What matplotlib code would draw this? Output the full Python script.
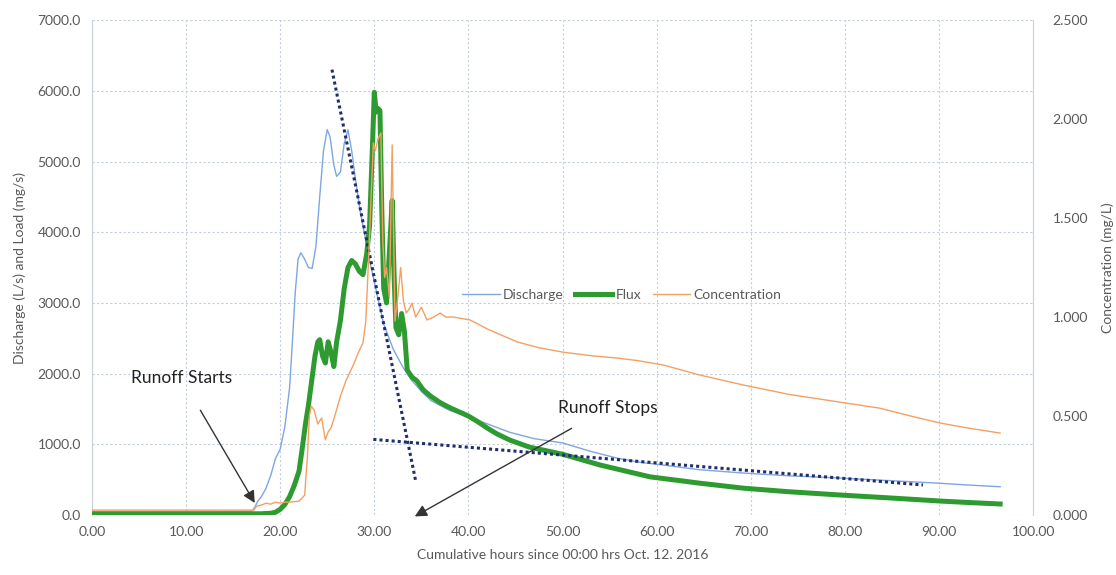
import matplotlib
matplotlib.use('Agg')
import matplotlib.pyplot as plt
from matplotlib.ticker import FormatStrFormatter

plt.rcParams['font.family'] = ['Lato', 'DejaVu Sans']

# discharge (L/s)
hours_q = [0, 5, 10, 15, 17.0, 17.3, 17.6, 18.0, 18.5, 19.0, 19.5, 20.0, 20.5, 21.0, 21.3, 21.6,
           21.9, 22.2, 22.6, 23.0, 23.4, 23.8, 24.2, 24.6, 25.0, 25.3, 25.7, 26.0, 26.4, 26.8,
           27.2, 27.6, 28.0, 28.5, 29.0, 29.5, 30.0, 30.5, 31.0, 32.0, 33.0, 34.0, 35.0, 36.0,
           38.0, 40.0, 41.6, 44.4, 47.0, 50.0, 53.0, 55.8, 58.0, 60.7, 64.6, 69.2, 74.0, 79.5,
           85.0, 90.0, 93.0, 96.5]
discharge = [50, 50, 52, 52, 55, 110, 190, 260, 380, 560, 800, 930, 1250, 1800, 2450, 3150,
             3620, 3710, 3620, 3500, 3490, 3800, 4500, 5150, 5450, 5350, 4950, 4790, 4850, 5250,
             5450, 5150, 4750, 4300, 3950, 3600, 3300, 3000, 2700, 2350, 2100, 1900, 1750, 1620,
             1480, 1390, 1310, 1170, 1080, 1020, 900, 805, 750, 707, 640, 594, 555, 523,
             485, 450, 425, 400]

# load / flux (mg/s)
hours_f = [0, 10, 18.0, 19.0, 19.5, 20.0, 20.5, 21.0, 21.5, 22.0, 22.3, 22.7, 23.0, 23.2, 23.4,
           23.7, 24.0, 24.2, 24.5, 24.8, 25.1, 25.4, 25.7, 26.0, 26.4, 26.8, 27.2, 27.6, 28.0,
           28.4, 28.8, 29.2, 29.5, 29.8, 30.0, 30.2, 30.4, 30.6, 30.8, 31.0, 31.3, 31.6, 31.9,
           32.1, 32.3, 32.6, 32.9, 33.2, 33.5, 34.0, 34.5, 35.2, 36.0, 37.0, 38.0, 39.0, 40.0,
           41.0, 42.0, 43.0, 44.4, 46.5, 50.0, 54.0, 59.3, 64.6, 69.2, 74.0, 79.5, 85.0, 90.1,
           93.0, 96.5]
flux = [15, 15, 18, 25, 40, 80, 150, 260, 420, 620, 900, 1300, 1550, 1750, 1950,
        2250, 2450, 2480, 2250, 2150, 2450, 2300, 2100, 2450, 2750, 3200, 3500, 3600, 3550,
        3450, 3400, 3700, 4100, 5200, 5980, 5700, 5750, 5720, 4300, 3200, 3000, 3700, 4450,
        3400, 2650, 2550, 2850, 2600, 2050, 1950, 1900, 1770, 1680, 1590, 1520, 1460, 1400,
        1320, 1230, 1150, 1060, 960, 860, 707, 540, 450, 380, 330, 283, 240, 198,
        178, 156]

# concentration (mg/L)
hours_c = [0, 10, 17.2, 17.5, 18.0, 18.5, 19.0, 19.5, 20.0, 20.5, 21.0, 22.0, 22.6, 22.9, 23.1,
           23.3, 23.6, 24.0, 24.4, 24.8, 25.1, 25.4, 25.8, 26.4, 27.0, 27.7, 28.3, 28.8, 29.1,
           29.4, 29.7, 29.9, 30.1, 30.4, 30.7, 30.9, 31.1, 31.3, 31.6, 31.9, 32.2, 32.5, 32.8,
           33.1, 33.4, 33.7, 34.0, 34.4, 35.0, 35.6, 36.3, 37.0, 37.6, 38.4, 40.2, 42.0, 45.2,
           47.5, 50.0, 53.0, 55.8, 58.0, 60.7, 64.6, 69.2, 74.0, 79.5, 83.7, 87.0, 90.1, 93.0, 96.5]
concentration = [0.025, 0.025, 0.025, 0.045, 0.05, 0.06, 0.055, 0.065, 0.06, 0.065, 0.065, 0.07, 0.1, 0.3, 0.5,
                 0.55, 0.53, 0.46, 0.49, 0.38, 0.42, 0.44, 0.5, 0.6, 0.68, 0.75, 0.82, 0.87, 0.98,
                 1.3, 1.65, 1.88, 1.84, 1.9, 1.93, 1.39, 1.2, 1.25, 1.1, 1.87, 0.98, 1.1, 1.25,
                 1.08, 1.02, 1.04, 1.07, 1.0, 1.05, 0.985, 1.0, 1.02, 1.0, 1.0, 0.985, 0.94, 0.874,
                 0.845, 0.823, 0.805, 0.793, 0.78, 0.758, 0.707, 0.657, 0.61, 0.57, 0.54, 0.5, 0.465, 0.44, 0.414]

# hand-drawn trend lines (hours, L/s)
rise_x = [25.5, 34.4]
rise_y = [6300, 480]
recess_x = [29.9, 88.3]
recess_y = [1070, 425]

grey = '#595959'
gridc = '#c5cedd'

fig = plt.figure(figsize=(11.16, 5.75), dpi=100)
ax = fig.add_axes([0.0824, 0.1043, 0.8433, 0.8607])
ax2 = ax.twinx()

l1, = ax.plot(hours_q, discharge, color='#7ea6e0', lw=1.0, label='Discharge', zorder=3)
l2, = ax.plot(hours_f, flux, color='#2e9b30', lw=3.6, label='Flux', zorder=4)
l3, = ax2.plot(hours_c, concentration, color='#f4a062', lw=1.0, label='Concentration', zorder=3)

ax2.plot(rise_x, rise_y, color='#1f2f6e', lw=2.2, ls=(0, (1, 1)), transform=ax.transData)
ax2.plot(recess_x, recess_y, color='#1f2f6e', lw=2.2, ls=(0, (1, 1)), transform=ax.transData)

ax.set_xlim(0, 100)
ax.set_ylim(0, 7000)
ax2.set_ylim(0, 2.5)
ax.set_xticks(range(0, 101, 10))
ax.set_yticks(range(0, 7001, 1000))
ax2.set_yticks([0, 0.5, 1.0, 1.5, 2.0, 2.5])
ax.xaxis.set_major_formatter(FormatStrFormatter('%.2f'))
ax.yaxis.set_major_formatter(FormatStrFormatter('%.1f'))
ax2.yaxis.set_major_formatter(FormatStrFormatter('%.3f'))

ax.grid(True, color=gridc, ls=(0, (2, 2)), lw=0.8)
ax.set_axisbelow(True)
for a in (ax, ax2):
    a.tick_params(length=0, labelsize=10, labelcolor=grey)
    for s in a.spines.values():
        s.set_visible(False)
ax.tick_params(axis='x', pad=8)
ax.tick_params(axis='y', pad=8)
ax2.tick_params(axis='y', pad=14)
ax.spines['left'].set_visible(True)
ax.spines['left'].set_color('#c8d0de')
ax2.spines['right'].set_visible(True)
ax2.spines['right'].set_color('#c8d0de')

ax.set_xlabel('Cumulative hours since 00:00 hrs Oct. 12. 2016', fontsize=10, color=grey, labelpad=8)
ax.set_ylabel('Discharge (L/s) and Load (mg/s)', fontsize=10, color=grey, labelpad=8)
ax2.set_ylabel('Concentration (mg/L)', fontsize=10, color=grey, labelpad=10)

ax2.annotate('Runoff Starts', xy=(17.3, 170), xytext=(9.5, 1940), xycoords=ax.transData,
             textcoords=ax.transData, ha='center', va='center', fontsize=12.5, color='#222222',
             arrowprops=dict(arrowstyle='-|>', color='#333333', lw=1.0, mutation_scale=18,
                             shrinkA=18, shrinkB=0))
ax2.annotate('Runoff Stops', xy=(34.3, -20), xytext=(54.8, 1513), xycoords=ax.transData,
             textcoords=ax.transData, ha='center', va='center', fontsize=12.5, color='#222222',
             annotation_clip=False,
             arrowprops=dict(arrowstyle='-|>', color='#333333', lw=1.0, mutation_scale=18,
                             shrinkA=14, shrinkB=0))

leg = ax2.legend(handles=[l1, l2, l3], loc='center', bbox_to_anchor=(0.563, 0.444), ncol=3,
                 frameon=False, fontsize=10, handlelength=2.7, handletextpad=0.25,
                 columnspacing=0.8)
for t in leg.get_texts():
    t.set_color(grey)

fig.savefig('out.png', dpi=100)
